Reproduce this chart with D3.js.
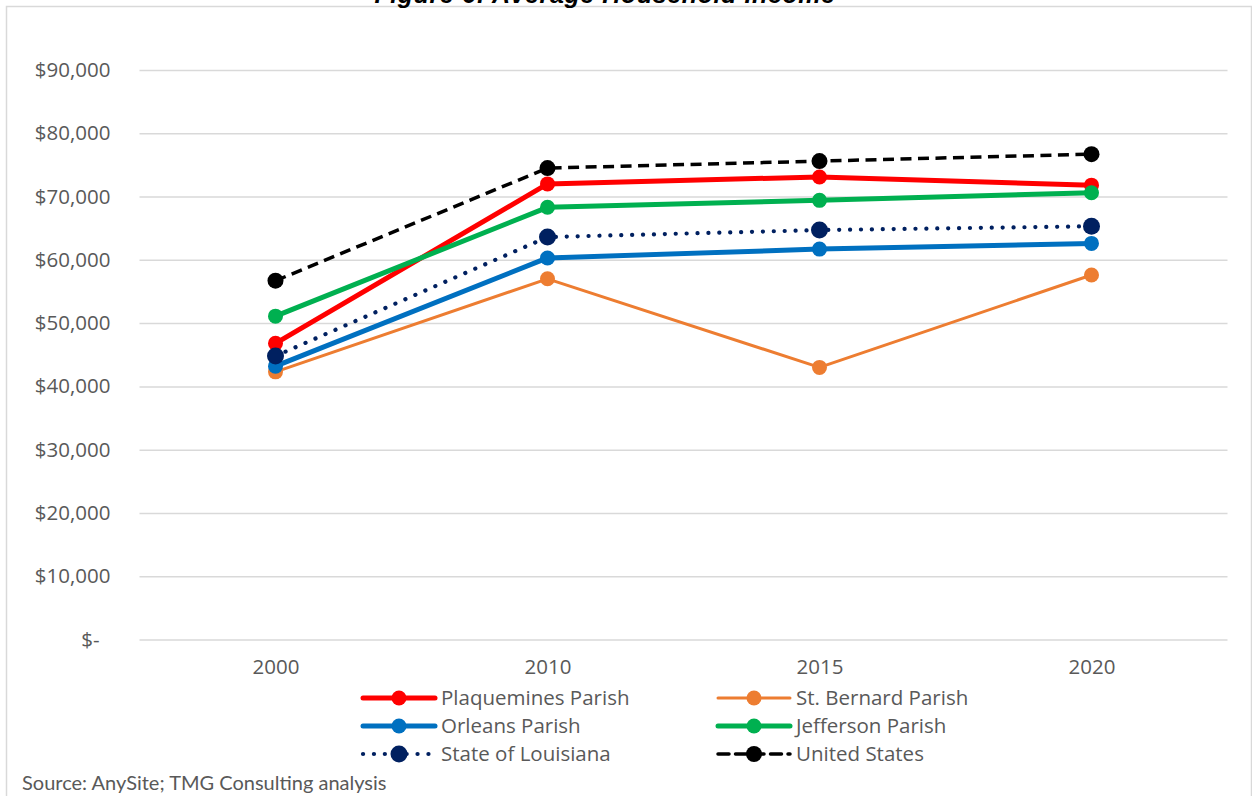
<!DOCTYPE html>
<html>
<head>
<meta charset="utf-8">
<script src="https://cdn.jsdelivr.net/npm/d3@7"></script>
<style>
  html, body { margin: 0; padding: 0; background: #fff; }
  svg { display: block; }
</style>
</head>
<body>
<svg id="chart" width="1252" height="796"></svg>
<script>
const years = ["2000", "2010", "2015", "2020"];
const plaquemines = [46800, 72000, 73100, 71800];
const stBernard   = [42300, 57000, 43000, 57600];
const orleans     = [43200, 60300, 61700, 62600];
const jefferson   = [51100, 68300, 69400, 70600];
const louisiana   = [44800, 63600, 64700, 65300];
const unitedStates= [56700, 74500, 75600, 76700];
const seriesNames = ["Plaquemines Parish", "St. Bernard Parish", "Orleans Parish", "Jefferson Parish", "State of Louisiana", "United States"];
const yTicks = [0, 10000, 20000, 30000, 40000, 50000, 60000, 70000, 80000, 90000];
const yTickLabels = ["$-", "$10,000", "$20,000", "$30,000", "$40,000", "$50,000", "$60,000", "$70,000", "$80,000", "$90,000"];
const titleText = "Figure 6: Average Household Income";
const sourceText = "Source: AnySite; TMG Consulting analysis";

const styles = [
  {color: "#FF0000", width: 5,   dash: null,        r: 7.5},
  {color: "#ED7D31", width: 3,   dash: null,        r: 7.5},
  {color: "#0070C0", width: 5,   dash: null,        r: 7.5},
  {color: "#00B050", width: 5,   dash: null,        r: 7.5},
  {color: "#002060", width: 4.2, dash: "0.1 10.8",  r: 8.5, cap: "round"},
  {color: "#000000", width: 3.5, dash: "11 6.5",    r: 8}
];
const values = [plaquemines, stBernard, orleans, jefferson, louisiana, unitedStates];

const svg = d3.select("#chart");
const font = "'Open Sans', sans-serif";
const textColor = "#595959";

// frame
svg.append("rect").attr("x", 6.5).attr("y", 6.5).attr("width", 1245).attr("height", 820)
  .attr("fill", "none").attr("stroke", "#D9D9D9").attr("stroke-width", 1.5);

// title (clipped at top, as in the reference)
svg.append("text").attr("x", 605).attr("y", 2.5).attr("text-anchor", "middle")
  .attr("font-family", "'Liberation Sans', sans-serif").attr("font-size", 25)
  .attr("letter-spacing", 0.6)
  .attr("font-weight", "bold").attr("font-style", "italic").attr("fill", "#000")
  .text(titleText);

const x = d3.scalePoint().domain(years).range([139.5, 1227.5]).padding(0.5);
const y = d3.scaleLinear().domain([0, 90000]).range([639.5, 70]);

// gridlines + y labels
const yAxis = d3.axisLeft(y).tickValues(yTicks).tickSize(-(1227.5 - 139.5)).tickPadding(29)
  .tickFormat((d, i) => yTickLabels[i]);
const gy = svg.append("g").attr("transform", "translate(139.5,0)").call(yAxis);
gy.select(".domain").remove();
gy.selectAll(".tick line").attr("stroke", "#D9D9D9").attr("stroke-width", 1.5);
gy.selectAll(".tick text").attr("font-family", font).attr("font-size", 20.5).attr("fill", textColor)
  .attr("dx", (d) => d === 0 ? -11 : 0);

const xAxis = d3.axisBottom(x).tickSize(0).tickPadding(20);
const gx = svg.append("g").attr("transform", "translate(0,639.5)").call(xAxis);
gx.select(".domain").remove();
gx.selectAll(".tick text").attr("font-family", font).attr("font-size", 20.5).attr("fill", textColor);

const line = d3.line().x((d, i) => x(years[i])).y(d => y(d));

values.forEach((vals, si) => {
  const s = styles[si];
  const g = svg.append("g");
  g.append("path").datum(vals).attr("d", line).attr("fill", "none")
    .attr("stroke", s.color).attr("stroke-width", s.width)
    .attr("stroke-dasharray", s.dash).attr("stroke-linecap", s.cap || "butt")
    .attr("stroke-linejoin", "round");
  g.selectAll("circle").data(vals).join("circle")
    .attr("cx", (d, i) => x(years[i])).attr("cy", d => y(d)).attr("r", s.r).attr("fill", s.color);
});

// legend
const legCols = [363, 718];
const legRows = [698, 726, 754];
seriesNames.forEach((name, i) => {
  const s = styles[i];
  const lx = legCols[i % 2], ly = legRows[Math.floor(i / 2)];
  const g = svg.append("g");
  g.append("line").attr("x1", lx).attr("x2", lx + 72).attr("y1", ly).attr("y2", ly)
    .attr("stroke", s.color).attr("stroke-width", s.width)
    .attr("stroke-dasharray", s.dash ? (s.cap ? "0.1 10.8" : "11 6.5") : null)
    .attr("stroke-linecap", s.cap || "round");
  g.append("circle").attr("cx", lx + 36).attr("cy", ly).attr("r", s.r).attr("fill", s.color);
  g.append("text").attr("x", lx + 78).attr("y", ly).attr("dy", "0.35em")
    .attr("font-family", font).attr("font-size", 20.5).attr("fill", textColor).text(name);
});

// source
svg.append("text").attr("x", 22).attr("y", 790).attr("font-family", "'Lato', sans-serif")
  .attr("font-size", 20).attr("fill", textColor).text(sourceText);
</script>
</body>
</html>
